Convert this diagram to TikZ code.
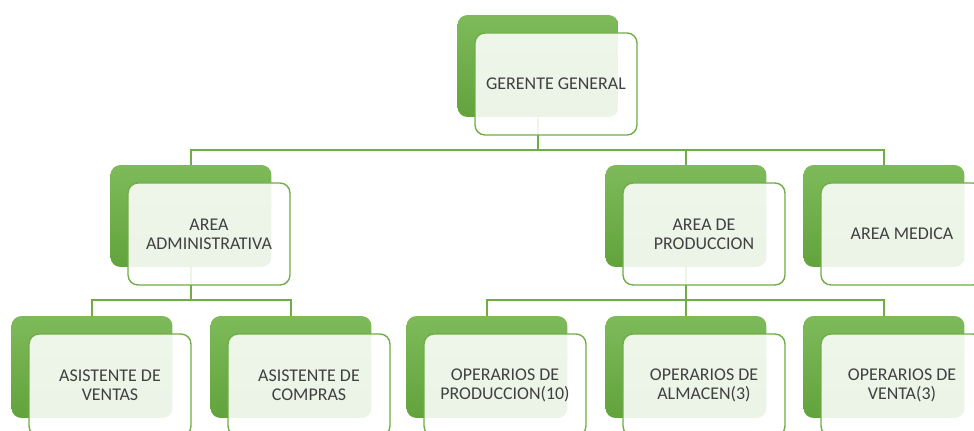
\documentclass[tikz,border=0pt]{standalone}
\usepackage{fontspec}
\setmainfont{Carlito}
\definecolor{verde}{RGB}{112,173,71}
\definecolor{verdeclaro}{RGB}{126,186,90}
\definecolor{verdeosc}{RGB}{98,163,60}
\tikzstyle{fondo}=[rectangle, rounded corners=0.2cm, minimum width=3.22cm, minimum height=2.04cm, inner sep=0, top color=verdeclaro, bottom color=verdeosc]
\tikzstyle{caja}=[rectangle, rounded corners=0.2cm, minimum width=3.24cm, minimum height=2.04cm, draw=verde, line width=0.8pt, fill=white, fill opacity=0.88, text opacity=1, text=black!75, align=center, xshift=0.36cm, yshift=-0.36cm, font=\fontsize{10.2}{10.8}\selectfont]
\tikzstyle{linea}=[draw=verde, line width=1.1pt]

\begin{document}
\begin{tikzpicture}[x=0.02cm, y=-0.02cm]
\clip (0,0) rectangle (974,431);
% cajas verdes de fondo
\node[fondo] (gg) at (538,66) {};
\node[fondo] (adm) at (191,216) {};
\node[fondo] (prod) at (686,216) {};
\node[fondo] (med) at (884,216) {};
\node[fondo] (ven) at (92,367) {};
\node[fondo] (com) at (291,367) {};
\node[fondo] (opp) at (487,367) {};
\node[fondo] (alm) at (686,367) {};
\node[fondo] (opv) at (884,367) {};
% lineas
\foreach \h in {adm,prod,med} {\draw[linea] (gg.south) -- ++(0,33) -| (\h.north);}
\foreach \h in {ven,com} {\draw[linea] (adm.south) -- ++(0,33) -| (\h.north);}
\foreach \h in {opp,alm,opv} {\draw[linea] (prod.south) -- ++(0,33) -| (\h.north);}
% cajas blancas con texto
\foreach \n/\t in {gg/GERENTE GENERAL, adm/AREA\\ADMINISTRATIVA, prod/AREA DE\\PRODUCCION, med/AREA MEDICA, ven/ASISTENTE DE\\VENTAS, com/ASISTENTE DE\\COMPRAS, opp/OPERARIOS DE\\PRODUCCION(10), alm/OPERARIOS DE\\ALMACEN(3), opv/OPERARIOS DE\\VENTA(3)}
  {\node[caja] (\n1) at (\n) {\t};}
\end{tikzpicture}
\end{document}
